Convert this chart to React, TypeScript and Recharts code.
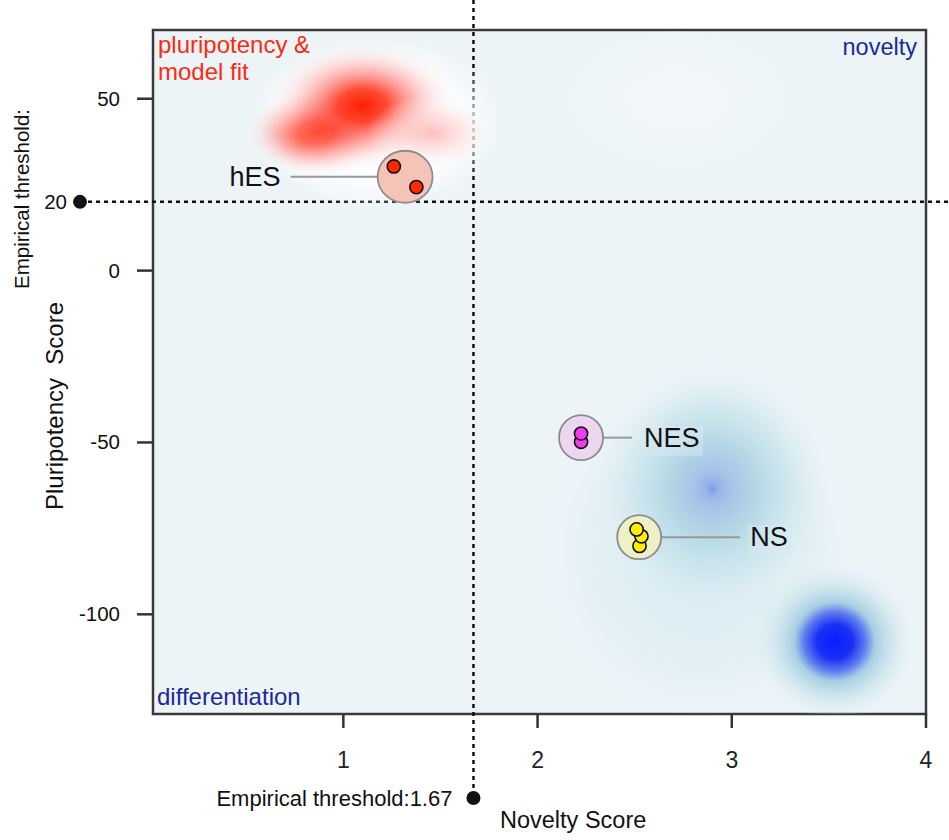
import React from 'react';
import {
  ScatterChart,
  Scatter,
  XAxis,
  YAxis,
  CartesianGrid,
  ReferenceLine,
  ReferenceArea,
} from 'recharts';

// axis setup
const X_DOMAIN = [0.02, 4];
const Y_DOMAIN = [-129, 70];
const X_TICKS = [1, 2, 3, 4];
const Y_TICKS = [50, 0, -50, -100];
const X_THRESHOLD = 1.67;
const Y_THRESHOLD = 20;

// sample scores
const HES_X = [1.26, 1.376];
const HES_Y = [30.3, 24.3];
const NES_X = [2.224, 2.224];
const NES_Y = [-49.8, -47.4];
const NS_X = [2.525, 2.535, 2.51];
const NS_Y = [-80.1, -77.3, -75.3];

// background density of the reference set (centre, spread, kind)
const DENSITY_X = [1.17, 2.72, 2.84, 0.86, 1.1, 1.46, 2.9, 3.53];
const DENSITY_Y = [43, 50, -82, 40, 48, 40, -63.5, -108];
const DENSITY_SX = [0.66, 0.57, 0.8, 0.38, 0.5, 0.34, 0.6, 0.42];
const DENSITY_SY = [25, 20, 48, 13, 19, 11, 36, 23];
const DENSITY_KIND = ['white', 'haze', 'cyan', 'red', 'red', 'pink', 'blueMid', 'blueCore'];

const W = 949;
const H = 840;
const M = { top: 30, right: 23, bottom: 86, left: 93 };
const Y_AXIS_W = 60;
const X_AXIS_H = 40;
const PLOT_W = W - M.left - M.right - Y_AXIS_W;
const PLOT_H = H - M.top - M.bottom - X_AXIS_H;
const PX_X = PLOT_W / (X_DOMAIN[1] - X_DOMAIN[0]);
const PX_Y = PLOT_H / (Y_DOMAIN[1] - Y_DOMAIN[0]);

const FONT = '"Liberation Sans", Arial, Helvetica, sans-serif';

const toPoints = (xs: number[], ys: number[]) => xs.map((x, i) => ({ x, y: ys[i] }));
const mean = (a: number[]) => a.reduce((s, v) => s + v, 0) / a.length;

const hesData = toPoints(HES_X, HES_Y);
const nesData = toPoints(NES_X, NES_Y);
const nsData = toPoints(NS_X, NS_Y);

const groupData = [
  { name: 'hES', x: mean(HES_X), y: mean(HES_Y) },
  { name: 'NES', x: mean(NES_X), y: mean(NES_Y) },
  { name: 'NS', x: mean(NS_X), y: mean(NS_Y) },
];

const densityData = DENSITY_X.map((x, i) => ({
  x,
  y: DENSITY_Y[i],
  sx: DENSITY_SX[i],
  sy: DENSITY_SY[i],
  kind: DENSITY_KIND[i],
}));

const GROUP_LOOK: Record<string, any> = {
  hES: { fill: '#f6c3b8', rx: 27.5, ry: 26, side: -1, lineLen: 87, gap: 10, box: false },
  NES: { fill: '#ecd6f0', rx: 22, ry: 22.5, side: 1, lineLen: 29, gap: 12, box: true },
  NS: { fill: '#eef1c6', rx: 22, ry: 22, side: 1, lineLen: 79, gap: 10, box: true },
};

const renderDensity = (p: any) => {
  const d = p.payload;
  return (
    <ellipse
      cx={p.cx}
      cy={p.cy}
      rx={d.sx * PX_X}
      ry={d.sy * PX_Y}
      fill={`url(#g-${d.kind})`}
      stroke="none"
    />
  );
};

const renderGroup = (p: any) => {
  const g = GROUP_LOOK[p.payload.name];
  const x0 = p.cx + g.side * g.rx;
  const x1 = x0 + g.side * g.lineLen;
  const tx = x1 + g.side * g.gap;
  return (
    <g>
      <line x1={x0} y1={p.cy} x2={x1} y2={p.cy} stroke="#999" strokeWidth={2} />
      {g.box && (
        <rect x={tx - 2} y={p.cy - 12} width={p.payload.name.length * 19 + 4} height={30} fill="#d8eaf1" opacity={0.5} />
      )}
      <ellipse cx={p.cx} cy={p.cy} rx={g.rx} ry={g.ry} fill={g.fill} stroke="#8c8c8c" strokeWidth={1.8} />
      <text
        x={tx}
        y={p.cy + 9}
        textAnchor={g.side < 0 ? 'end' : 'start'}
        fontSize={27}
        fontFamily={FONT}
        fill="#111"
      >
        {p.payload.name}
      </text>
    </g>
  );
};

const dot = (color: string) => (p: any) => (
  <circle cx={p.cx} cy={p.cy} r={6.6} fill={color} stroke="#111" strokeWidth={1.6} />
);

const yTick = (p: any) => (
  <text x={120} y={p.y + 7} textAnchor="end" fontSize={20.5} fontFamily={FONT} fill="#111">
    {p.payload.value}
  </text>
);

const xTick = (p: any) => (
  <text x={p.x} y={768} textAnchor="middle" fontSize={23} fontFamily={FONT} fill="#222">
    {p.payload.value}
  </text>
);

const hLine = (p: any) => (
  <g>
    <line x1={80} y1={p.y1} x2={W} y2={p.y1} stroke="#111" strokeWidth={2.5} strokeDasharray="4 4" />
    <circle cx={80} cy={p.y1} r={7} fill="#111" />
    <text x={67} y={p.y1 + 7} textAnchor="end" fontSize={20.5} fontFamily={FONT} fill="#111">
      {Y_THRESHOLD}
    </text>
  </g>
);

const vLine = (p: any) => (
  <g>
    <line x1={p.x1} y1={0} x2={p.x1} y2={798} stroke="#111" strokeWidth={2.5} strokeDasharray="4 4" />
    <circle cx={p.x1} cy={798} r={7} fill="#111" />
    <text x={p.x1 - 21} y={806} textAnchor="end" fontSize={22} fontFamily={FONT} fill="#111">
      {`Empirical threshold:${X_THRESHOLD}`}
    </text>
  </g>
);

export default function App() {
  return (
    <div style={{ position: 'absolute', left: 0, top: 0, background: '#fff' }}>
      <ScatterChart width={W} height={H} margin={M} style={{ fontFamily: FONT }}>
        <defs>
          <radialGradient id="g-white">
            <stop offset="0" stopColor="#ffffff" stopOpacity={0.95} />
            <stop offset="0.7" stopColor="#ffffff" stopOpacity={0.8} />
            <stop offset="1" stopColor="#ffffff" stopOpacity={0} />
          </radialGradient>
          <radialGradient id="g-haze">
            <stop offset="0" stopColor="#f4f9fb" stopOpacity={0.6} />
            <stop offset="0.75" stopColor="#f4f9fb" stopOpacity={0.4} />
            <stop offset="1" stopColor="#f4f9fb" stopOpacity={0} />
          </radialGradient>
          <radialGradient id="g-cyan">
            <stop offset="0" stopColor="#d2e8ef" stopOpacity={0.9} />
            <stop offset="0.7" stopColor="#dcedf3" stopOpacity={0.6} />
            <stop offset="1" stopColor="#e6f1f5" stopOpacity={0} />
          </radialGradient>
          <radialGradient id="g-red">
            <stop offset="0" stopColor="#ff1e00" stopOpacity={1} />
            <stop offset="0.25" stopColor="#ff2a10" stopOpacity={0.85} />
            <stop offset="0.5" stopColor="#ff5a50" stopOpacity={0.5} />
            <stop offset="0.75" stopColor="#ffc0c0" stopOpacity={0.3} />
            <stop offset="1" stopColor="#ffffff" stopOpacity={0} />
          </radialGradient>
          <radialGradient id="g-pink">
            <stop offset="0" stopColor="#ffb0b0" stopOpacity={0.8} />
            <stop offset="0.5" stopColor="#ffd6d6" stopOpacity={0.5} />
            <stop offset="1" stopColor="#ffffff" stopOpacity={0} />
          </radialGradient>
          <radialGradient id="g-blueMid">
            <stop offset="0" stopColor="#7d9ee6" stopOpacity={1} />
            <stop offset="0.06" stopColor="#98b4ea" stopOpacity={1} />
            <stop offset="0.16" stopColor="#a6c4e8" stopOpacity={1} />
            <stop offset="0.4" stopColor="#b4d8e5" stopOpacity={0.95} />
            <stop offset="0.7" stopColor="#cde6ee" stopOpacity={0.7} />
            <stop offset="1" stopColor="#e0eff4" stopOpacity={0} />
          </radialGradient>
          <radialGradient id="g-blueCore">
            <stop offset="0" stopColor="#0a1cff" stopOpacity={1} />
            <stop offset="0.22" stopColor="#1a30f5" stopOpacity={1} />
            <stop offset="0.38" stopColor="#5a78ee" stopOpacity={0.95} />
            <stop offset="0.5" stopColor="#9cc8e0" stopOpacity={0.85} />
            <stop offset="0.72" stopColor="#c6e2ea" stopOpacity={0.65} />
            <stop offset="1" stopColor="#e0eff4" stopOpacity={0} />
          </radialGradient>
        </defs>
        <CartesianGrid horizontal={false} vertical={false} fill="#ecf4f8" stroke="none" />
        <XAxis
          type="number"
          dataKey="x"
          domain={X_DOMAIN}
          ticks={X_TICKS}
          allowDataOverflow
          height={X_AXIS_H}
          axisLine={false}
          tickSize={14}
          tickLine={{ stroke: '#333', strokeWidth: 2.5 }}
          tick={xTick}
        />
        <YAxis
          type="number"
          dataKey="y"
          domain={Y_DOMAIN}
          ticks={Y_TICKS}
          allowDataOverflow
          width={Y_AXIS_W}
          axisLine={false}
          tickSize={16}
          tickLine={{ stroke: '#333', strokeWidth: 2.5 }}
          tick={yTick}
        />
        <Scatter data={densityData} shape={renderDensity} isAnimationActive={false} />
        <Scatter data={groupData} shape={renderGroup} isAnimationActive={false} />
        <Scatter data={hesData} shape={dot('#ff2a00')} isAnimationActive={false} />
        <Scatter data={nesData} shape={dot('#f03cf0')} isAnimationActive={false} />
        <Scatter data={nsData} shape={dot('#ffee00')} isAnimationActive={false} />
        <ReferenceLine y={Y_THRESHOLD} shape={hLine} />
        <ReferenceLine x={X_THRESHOLD} shape={vLine} />
        <ReferenceArea
          x1={X_DOMAIN[0]}
          x2={X_DOMAIN[1]}
          y1={Y_DOMAIN[0]}
          y2={Y_DOMAIN[1]}
          fill="none"
          stroke="#3a3a3a"
          strokeWidth={2.5}
        />
        <text x={158} y={53} fontSize={24} fill="#ff2a10" fontFamily={FONT}>pluripotency &amp;</text>
        <text x={158} y={80} fontSize={24} fill="#ff2a10" fontFamily={FONT}>model fit</text>
        <text x={917} y={55} fontSize={23.5} fill="#1a2a9a" fontFamily={FONT} textAnchor="end">novelty</text>
        <text x={157} y={705} fontSize={24} fill="#1a2a9a" fontFamily={FONT}>differentiation</text>
        <text x={500} y={828} fontSize={23.5} fill="#111" fontFamily={FONT}>Novelty Score</text>
        <text
          x={29}
          y={199}
          fontSize={20.5}
          fill="#111"
          fontFamily={FONT}
          textAnchor="middle"
          transform="rotate(-90 29 199)"
        >
          Empirical threshold:
        </text>
        <text
          x={63}
          y={406}
          fontSize={24}
          fill="#111"
          fontFamily={FONT}
          textAnchor="middle"
          transform="rotate(-90 63 406)"
          style={{ whiteSpace: 'pre' }}
        >
          {'Pluripotency  Score'}
        </text>
      </ScatterChart>
    </div>
  );
}
